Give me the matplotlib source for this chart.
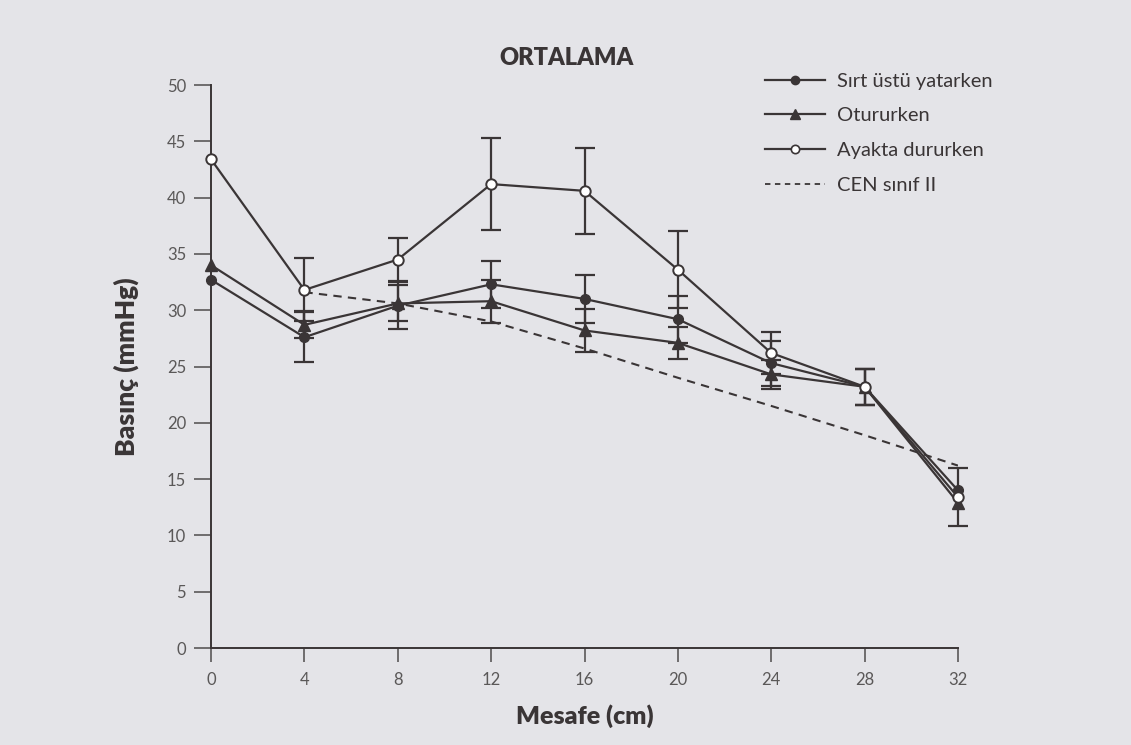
import matplotlib
matplotlib.use("Agg")
import matplotlib.pyplot as plt
from matplotlib.lines import Line2D

# Mesafe (cm)
x = [0, 4, 8, 12, 16, 20, 24, 28, 32]

sirt = [32.7, 27.6, 30.4, 32.3, 31.0, 29.2, 25.3, 23.2, 14.0]
sirt_err = [0, 2.2, 2.1, 2.1, 2.1, 2.1, 2.0, 1.6, 0]

oturur = [34.0, 28.7, 30.6, 30.8, 28.2, 27.1, 24.3, 23.2, 12.9]
oturur_err = [0, 1.2, 1.6, 1.9, 1.9, 1.4, 1.3, 1.6, 0]

ayakta = [43.4, 31.8, 34.5, 41.2, 40.6, 33.6, 26.2, 23.2, 13.4]
ayakta_err = [0, 2.8, 1.9, 4.1, 3.8, 3.4, 1.9, 1.6, 2.6]

cen_x = [4, 8, 12, 16, 20, 24, 28, 32]
cen = [31.6, 30.6, 29.0, 26.6, 24.0, 21.5, 18.9, 16.2]

labels = ["Sırt üstü yatarken", "Otururken", "Ayakta dururken", "CEN sınıf II"]

BG = "#e4e4e8"
INK = "#3a3536"
TICK = "#5a5858"

plt.rcParams["font.family"] = ["Lato", "DejaVu Sans"]

fig = plt.figure(figsize=(11.31, 7.45), dpi=100, facecolor=BG)
ax = fig.add_axes([0.1866, 0.1302, 0.8470 - 0.1866, 0.8859 - 0.1302])
ax.set_facecolor(BG)

lw = 1.6
ax.plot(cen_x, cen, ls=(0, (4, 3)), color=INK, lw=1.5, zorder=2)

series = [
    (sirt, sirt_err, dict(marker="o", ms=7, mfc=INK, mec=INK)),
    (oturur, oturur_err, dict(marker="^", ms=8, mfc=INK, mec=INK)),
    (ayakta, ayakta_err, dict(marker="o", ms=7.5, mfc="white", mec=INK, mew=1.4)),
]
for ys, err, mk in series:
    keep = [i for i, e in enumerate(err) if e > 0]
    ax.errorbar([x[i] for i in keep], [ys[i] for i in keep], yerr=[err[i] for i in keep],
                fmt="none", ecolor=INK, elinewidth=1.6, capsize=7, capthick=1.6,
                zorder=3, clip_on=False)
for ys, err, mk in series:
    ax.plot(x, ys, color=INK, lw=lw, zorder=4, clip_on=False, **mk)

ax.set_xlim(0, 32)
ax.set_ylim(0, 50)
ax.set_xticks(x)
ax.set_yticks(range(0, 51, 5))

for s in ["top", "right"]:
    ax.spines[s].set_visible(False)
for s in ["left", "bottom"]:
    ax.spines[s].set_color(INK)
    ax.spines[s].set_linewidth(1.4)

ax.tick_params(axis="y", length=12, width=1.2, color=TICK, labelcolor=TICK,
               labelsize=12, pad=6)
ax.tick_params(axis="x", length=10, width=1.2, color=TICK, labelcolor=TICK,
               labelsize=12, pad=7)

ax.set_xlabel("Mesafe (cm)", fontsize=18, fontweight="heavy", color=INK, labelpad=12)
ax.set_ylabel("Basınç (mmHg)", fontsize=19, fontweight="heavy", color=INK, labelpad=20)
fig.text(0.501, 0.922, "ORTALAMA", ha="center", va="center", fontsize=17,
         fontweight="heavy", color=INK)

handles = [
    Line2D([], [], color=INK, lw=lw, marker="o", ms=6, mfc=INK, mec=INK),
    Line2D([], [], color=INK, lw=lw, marker="^", ms=7, mfc=INK, mec=INK),
    Line2D([], [], color=INK, lw=lw, marker="o", ms=6, mfc="white", mec=INK, mew=1.2),
    Line2D([], [], color=INK, lw=1.3, ls=(0, (3, 2.5))),
]
leg = fig.legend(handles, labels, loc="upper left", bbox_to_anchor=(0.660, 0.927),
                 frameon=False, fontsize=14.5, handlelength=3.0, handletextpad=0.6,
                 labelspacing=0.88, labelcolor=INK)

fig.savefig("out.png", dpi=100, facecolor=BG)
